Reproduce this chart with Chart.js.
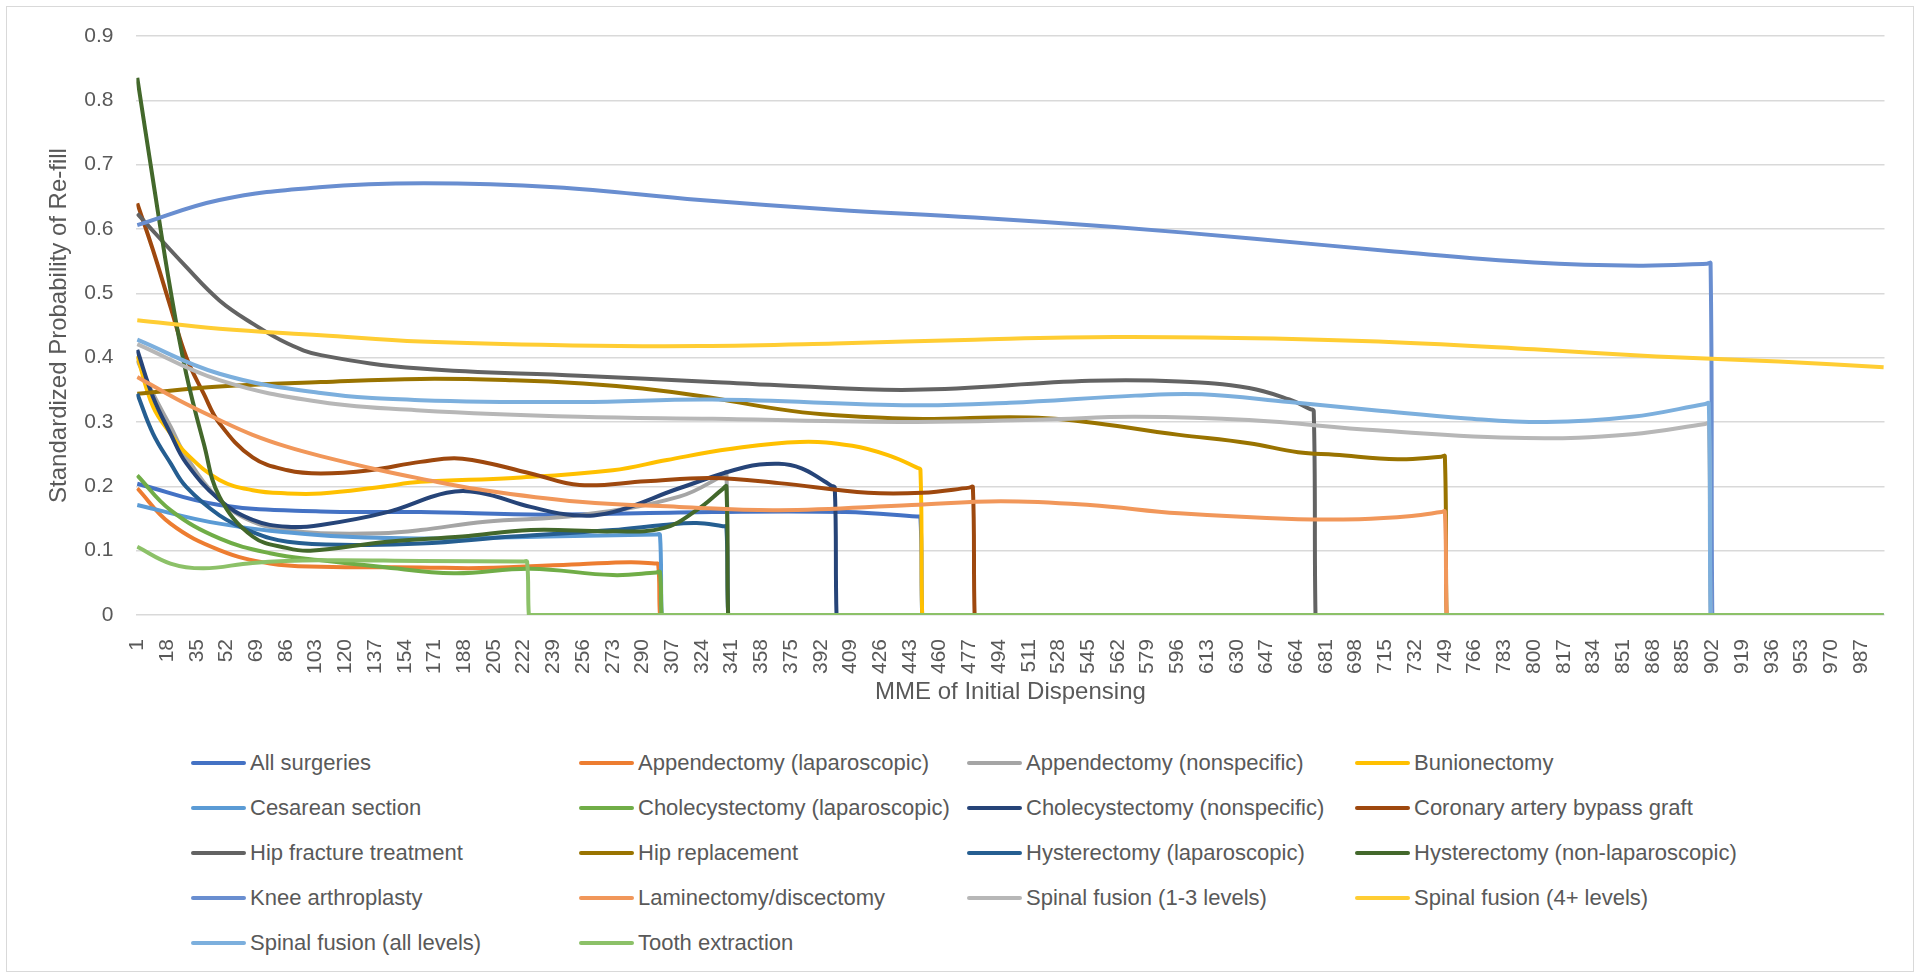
<!DOCTYPE html>
<html>
<head>
<meta charset="utf-8">
<title>Standardized Probability of Re-fill by MME</title>
<script src="https://cdn.jsdelivr.net/npm/chart.js@4.4.1/dist/chart.umd.min.js"></script>
<style>
  html, body { margin: 0; padding: 0; background: #fff; }
  #frame { position: absolute; left: 6px; top: 6px; width: 1908px; height: 966px; border: 1px solid #d9d9d9; box-sizing: border-box; }
  #wrap { position: absolute; left: 0; top: 0; width: 1915px; height: 730px; }
  #legend {
    position: absolute; left: 191px; top: 740px;
    display: grid; grid-template-columns: repeat(4, 388px); grid-auto-rows: 45px;
    font: 22px "Liberation Sans", Arial, sans-serif; color: #595959;
  }
  .item { display: flex; align-items: center; white-space: nowrap; }
  .swatch { width: 55px; height: 4px; border-radius: 2px; margin-right: 4px; flex: none; }
</style>
</head>
<body>
<div id="frame"></div>
<div id="wrap"><canvas id="chart" width="1915" height="730"></canvas></div>
<div id="legend"></div>
<script>
// x tick labels (MME of initial dispensing)
const mmeTicks = [1, 18, 35, 52, 69, 86, 103, 120, 137, 154, 171, 188, 205, 222, 239, 256, 273,
  290, 307, 324, 341, 358, 375, 392, 409, 426, 443, 460, 477, 494, 511, 528, 545, 562, 579,
  596, 613, 630, 647, 664, 681, 698, 715, 732, 749, 766, 783, 800, 817, 834, 851, 868, 885,
  902, 919, 936, 953, 970, 987];

// series values (MME -> probability); each drops to 0 after its last MME
const allSurgeriesX = [1, 48, 106, 163, 235, 330, 406, 447, 449, 450, 451, 1000];
const allSurgeriesY = [0.204, 0.171, 0.161, 0.160, 0.156, 0.160, 0.160, 0.153, 0.152, 0, 0, 0];

const appendectomyLapX = [1, 20, 48, 77, 106, 163, 197, 254, 283, 297, 299, 300, 301, 1000];
const appendectomyLapY = [0.197, 0.142, 0.101, 0.080, 0.075, 0.074, 0.073, 0.079, 0.082, 0.080, 0.079, 0, 0, 0];

const appendectomyNsX = [1, 10, 20, 29, 48, 67, 87, 106, 140, 163, 200, 254, 311, 336, 338, 339, 340, 1000];
const appendectomyNsY = [0.396, 0.344, 0.293, 0.246, 0.179, 0.145, 0.132, 0.127, 0.127, 0.132, 0.145, 0.155, 0.184, 0.217, 0.222, 0, 0, 0];

const bunionectomyX = [1, 10, 20, 29, 48, 67, 87, 106, 140, 163, 216, 273, 304, 340, 380, 410, 432, 447, 449, 450, 451, 1000];
const bunionectomyY = [0.403, 0.324, 0.282, 0.251, 0.210, 0.194, 0.189, 0.189, 0.199, 0.207, 0.213, 0.225, 0.241, 0.258, 0.269, 0.263, 0.247, 0.229, 0.226, 0, 0, 0];

const cesareanX = [1, 48, 106, 163, 235, 298, 300, 301, 302, 1000];
const cesareanY = [0.171, 0.142, 0.124, 0.119, 0.122, 0.125, 0.125, 0, 0, 0];

const cholecystLapX = [1, 20, 48, 77, 106, 140, 182, 226, 273, 298, 300, 301, 302, 1000];
const cholecystLapY = [0.217, 0.163, 0.119, 0.096, 0.085, 0.075, 0.065, 0.072, 0.062, 0.066, 0.067, 0, 0, 0];

const cholecystNsX = [1, 10, 20, 29, 48, 67, 87, 106, 144, 178, 197, 226, 251, 273, 311, 349, 368, 381, 394, 398, 400, 401, 402, 1000];
const cholecystNsY = [0.412, 0.339, 0.282, 0.236, 0.179, 0.148, 0.137, 0.140, 0.160, 0.190, 0.190, 0.168, 0.155, 0.160, 0.197, 0.230, 0.235, 0.228, 0.208, 0.201, 0.198, 0, 0, 0];

const coronaryX = [1, 10, 20, 29, 39, 48, 67, 87, 106, 134, 163, 187, 226, 254, 292, 330, 368, 419, 450, 477, 479, 480, 481, 1000];
const coronaryY = [0.640, 0.567, 0.479, 0.401, 0.344, 0.298, 0.245, 0.225, 0.220, 0.225, 0.238, 0.243, 0.220, 0.202, 0.208, 0.213, 0.205, 0.190, 0.190, 0.198, 0.199, 0, 0, 0];

const hipFractureX = [1, 29, 48, 67, 87, 106, 163, 254, 330, 368, 445, 546, 597, 637, 660, 672, 674, 675, 676, 1000];
const hipFractureY = [0.624, 0.541, 0.489, 0.453, 0.422, 0.404, 0.383, 0.372, 0.362, 0.357, 0.350, 0.364, 0.363, 0.353, 0.335, 0.320, 0.317, 0, 0, 0];

const hipReplacementX = [1, 48, 106, 163, 216, 256, 290, 324, 368, 393, 444, 521, 597, 637, 665, 686, 722, 747, 749, 750, 751, 1000];
const hipReplacementY = [0.344, 0.355, 0.362, 0.367, 0.365, 0.360, 0.352, 0.340, 0.320, 0.312, 0.305, 0.306, 0.280, 0.267, 0.253, 0.249, 0.242, 0.246, 0.247, 0, 0, 0];

const hysterLapX = [1, 10, 20, 29, 48, 67, 87, 125, 163, 216, 273, 302, 321, 336, 338, 339, 340, 1000];
const hysterLapY = [0.344, 0.282, 0.236, 0.199, 0.155, 0.129, 0.114, 0.109, 0.111, 0.122, 0.132, 0.140, 0.143, 0.138, 0.137, 0, 0, 0];

const hysterNonLapX = [1, 10, 20, 29, 39, 48, 67, 87, 100, 144, 187, 226, 273, 302, 321, 336, 338, 339, 340, 1000];
const hysterNonLapY = [0.835, 0.676, 0.505, 0.375, 0.267, 0.184, 0.122, 0.104, 0.100, 0.114, 0.122, 0.132, 0.130, 0.135, 0.163, 0.196, 0.200, 0, 0, 0];

const kneeX = [1, 48, 105, 165, 240, 323, 400, 480, 560, 640, 720, 800, 860, 899, 901, 902, 903, 1000];
const kneeY = [0.606, 0.645, 0.665, 0.671, 0.665, 0.645, 0.630, 0.618, 0.603, 0.585, 0.565, 0.548, 0.543, 0.546, 0.547, 0, 0, 0];

const laminectomyX = [1, 24, 48, 67, 86, 106, 140, 163, 197, 254, 311, 368, 444, 495, 546, 597, 665, 700, 730, 747, 749, 750, 751, 1000];
const laminectomyY = [0.370, 0.335, 0.303, 0.280, 0.262, 0.247, 0.225, 0.212, 0.195, 0.176, 0.168, 0.163, 0.171, 0.177, 0.171, 0.158, 0.149, 0.149, 0.154, 0.160, 0.161, 0, 0, 0];

const spinal13X = [1, 48, 106, 163, 254, 330, 445, 520, 572, 637, 710, 795, 856, 898, 900, 901, 902, 1000];
const spinal13Y = [0.421, 0.365, 0.331, 0.318, 0.308, 0.305, 0.300, 0.304, 0.308, 0.303, 0.287, 0.275, 0.281, 0.297, 0.298, 0, 0, 0];

const spinal4X = [1, 48, 106, 163, 250, 323, 400, 480, 560, 640, 720, 800, 870, 940, 1000];
const spinal4Y = [0.458, 0.445, 0.435, 0.425, 0.419, 0.418, 0.422, 0.428, 0.432, 0.430, 0.424, 0.413, 0.402, 0.394, 0.385];

const spinalAllX = [1, 48, 106, 163, 254, 330, 445, 500, 572, 610, 660, 710, 760, 807, 856, 898, 900, 901, 902, 1000];
const spinalAllY = [0.428, 0.375, 0.345, 0.334, 0.331, 0.335, 0.326, 0.330, 0.341, 0.343, 0.331, 0.318, 0.306, 0.300, 0.308, 0.328, 0.329, 0, 0, 0];

const toothX = [1, 20, 39, 67, 106, 163, 222, 224, 225, 226, 1000];
const toothY = [0.106, 0.080, 0.0725, 0.081, 0.085, 0.084, 0.083, 0.083, 0, 0, 0];

const seriesNames = [
  'All surgeries', 'Appendectomy (laparoscopic)', 'Appendectomy (nonspecific)', 'Bunionectomy',
  'Cesarean section', 'Cholecystectomy (laparoscopic)', 'Cholecystectomy (nonspecific)', 'Coronary artery bypass graft',
  'Hip fracture treatment', 'Hip replacement', 'Hysterectomy (laparoscopic)', 'Hysterectomy (non-laparoscopic)',
  'Knee arthroplasty', 'Laminectomy/discectomy', 'Spinal fusion (1-3 levels)', 'Spinal fusion (4+ levels)',
  'Spinal fusion (all levels)', 'Tooth extraction'
];
const seriesX = [allSurgeriesX, appendectomyLapX, appendectomyNsX, bunionectomyX, cesareanX, cholecystLapX,
  cholecystNsX, coronaryX, hipFractureX, hipReplacementX, hysterLapX, hysterNonLapX, kneeX, laminectomyX,
  spinal13X, spinal4X, spinalAllX, toothX];
const seriesY = [allSurgeriesY, appendectomyLapY, appendectomyNsY, bunionectomyY, cesareanY, cholecystLapY,
  cholecystNsY, coronaryY, hipFractureY, hipReplacementY, hysterLapY, hysterNonLapY, kneeY, laminectomyY,
  spinal13Y, spinal4Y, spinalAllY, toothY];
const seriesColors = ['#4472c4', '#ed7d31', '#a5a5a5', '#ffc000', '#5b9bd5', '#70ad47', '#264478', '#9e480e',
  '#636363', '#997300', '#255e91', '#43682b', '#698ed0', '#f1975a', '#b7b7b7', '#ffcd33', '#7cafdd', '#8cc168'];

const FONT = '"Liberation Sans", Arial, sans-serif';
const GREY = '#595959';

// excel draws the last series on top, chart.js the first: flip with order
const datasets = seriesNames.map((name, i) => ({
  label: name,
  data: seriesX[i].map((x, j) => ({x, y: seriesY[i][j]})),
  borderColor: seriesColors[i],
  backgroundColor: seriesColors[i],
  borderWidth: 4,
  pointRadius: 0,
  tension: 0.4,
  fill: false,
  order: seriesNames.length - i
}));

const chart = new Chart(document.getElementById('chart'), {
  type: 'line',
  data: {datasets},
  options: {
    responsive: false,
    animation: false,
    layout: {padding: {top: 36, right: 30.5, bottom: 0, left: 0}},
    plugins: {legend: {display: false}, tooltip: {enabled: false}},
    scales: {
      x: {
        type: 'linear',
        min: 0.5,
        max: 1000.5,
        afterBuildTicks: scale => { scale.ticks = mmeTicks.map(v => ({value: v})); },
        afterFit: scale => { scale.height = 115; },
        grid: {display: false},
        border: {display: false},
        ticks: {autoSkip: false, minRotation: 90, maxRotation: 90, padding: 16, color: GREY, font: {family: FONT, size: 21}},
        title: {display: true, text: 'MME of Initial Dispensing', color: GREY, font: {family: FONT, size: 24}, padding: {top: 0, bottom: 23}}
      },
      y: {
        min: 0,
        max: 0.9,
        afterFit: scale => { scale.width = 136.4; },
        ticks: {stepSize: 0.1, padding: 23, color: GREY, font: {family: FONT, size: 21}},
        grid: {color: '#d9d9d9', lineWidth: 1.5, drawTicks: false},
        border: {display: false},
        title: {display: true, text: 'Standardized Probability of Re-fill', color: GREY, font: {family: FONT, size: 24}, padding: {top: 45, bottom: 0}}
      }
    }
  }
});

// legend laid out in four fixed columns like the original
const legend = document.getElementById('legend');
chart.data.datasets.forEach(ds => {
  const item = document.createElement('div');
  item.className = 'item';
  item.innerHTML = `<span class="swatch" style="background:${ds.borderColor}"></span><span>${ds.label}</span>`;
  legend.appendChild(item);
});
</script>
</body>
</html>
